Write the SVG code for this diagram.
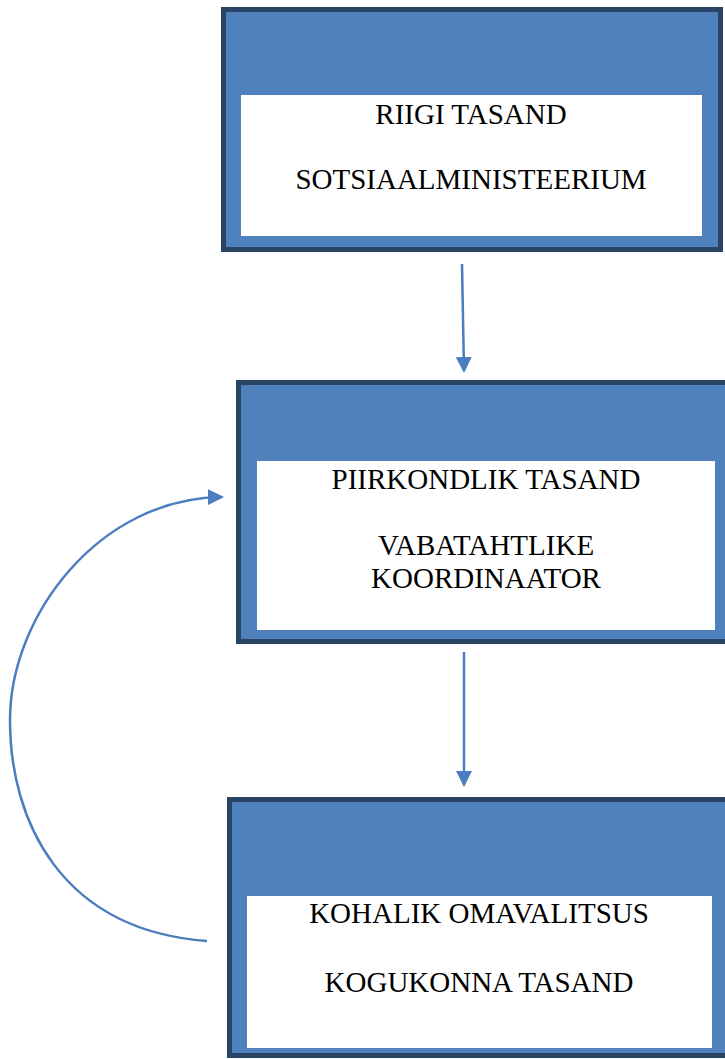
<svg xmlns="http://www.w3.org/2000/svg" width="725" height="1059" viewBox="0 0 725 1059">
<style>
.outer{fill:#4F81BD;stroke:#2A4466;stroke-width:5}
.inner{fill:#FFFFFF}
.t{font-family:"Liberation Serif","Times New Roman",serif;font-size:29px;fill:#000;text-anchor:middle}
.con{fill:none;stroke:#4A7EBF;stroke-width:2.5}
</style>
<defs>
<marker id="ah" markerWidth="16" markerHeight="16" refX="14" refY="8" orient="auto" markerUnits="userSpaceOnUse">
<path d="M0,0 L16,8 L0,16 Z" fill="#4A7EBF"/>
</marker>
</defs>
<rect width="725" height="1059" fill="#FFFFFF"/>
<g id="node-riigi">
<rect class="outer" x="223.5" y="9.5" width="497" height="240"/>
<rect class="inner" x="241" y="95" width="461" height="141"/>
<text class="t" x="471" y="124">RIIGI TASAND</text>
<text class="t" x="471" y="189">SOTSIAALMINISTEERIUM</text>
</g>
<g id="node-piirkondlik">
<rect class="outer" x="238.5" y="382.5" width="500" height="259"/>
<rect class="inner" x="257" y="461" width="458" height="169"/>
<text class="t" x="486" y="489">PIIRKONDLIK TASAND</text>
<text class="t" x="486" y="555">VABATAHTLIKE</text>
<text class="t" x="486" y="588">KOORDINAATOR</text>
</g>
<g id="node-kohalik">
<rect class="outer" x="229.5" y="799.5" width="510" height="256"/>
<rect class="inner" x="247" y="896" width="465" height="152"/>
<text class="t" x="479" y="923">KOHALIK OMAVALITSUS</text>
<text class="t" x="479" y="992">KOGUKONNA TASAND</text>
</g>
<g id="connectors">
<path class="con" d="M462,264 L464,371" marker-end="url(#ah)"/>
<path class="con" d="M464,652 L464,785" marker-end="url(#ah)"/>
<path class="con" d="M207,941 C60,930 10,820 10,720 C10,615 100,498 222,497" marker-end="url(#ah)"/>
</g>
</svg>
